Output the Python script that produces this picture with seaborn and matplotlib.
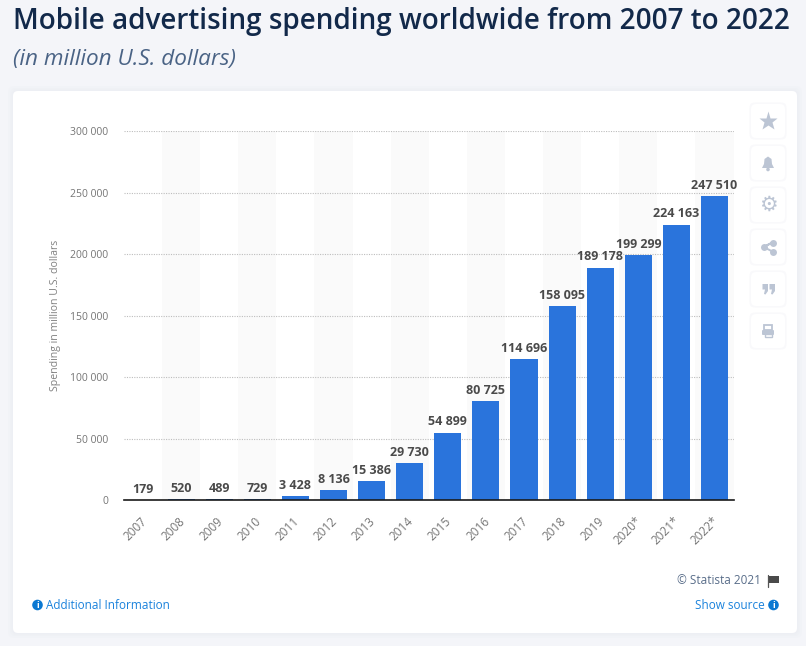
import matplotlib
matplotlib.use('Agg')
import matplotlib.pyplot as plt
from matplotlib.patches import FancyBboxPatch, Circle, Rectangle, Polygon
from matplotlib.transforms import ScaledTranslation
import pandas as pd
import seaborn as sns

years = ['2007', '2008', '2009', '2010', '2011', '2012', '2013', '2014', '2015',
         '2016', '2017', '2018', '2019', '2020*', '2021*', '2022*']
spending = [179, 520, 489, 729, 3428, 8136, 15386, 29730, 54899,
            80725, 114696, 158095, 189178, 199299, 224163, 247510]
y_ticks = [0, 50000, 100000, 150000, 200000, 250000, 300000]

sns.set_theme(style='white')
plt.rcParams['font.family'] = ['Open Sans', 'DejaVu Sans']

df = pd.DataFrame({'year': years, 'spending': spending})

fig = plt.figure(figsize=(8.06, 6.46), dpi=100, facecolor='#f4f5f9')

# background layer in pixel coordinates: card, buttons, icons
bg = fig.add_axes([0, 0, 1, 1], zorder=0)
bg.set_xlim(0, 806)
bg.set_ylim(646, 0)
bg.axis('off')

for grow, alpha in [(5, 0.25), (3, 0.4), (1.5, 0.6)]:
    bg.add_patch(FancyBboxPatch((13 - grow, 91 - grow), 784 + 2 * grow, 542 + 2 * grow,
                                boxstyle='round,pad=0,rounding_size=6', fc='#eceef4', ec='none', alpha=alpha))
bg.add_patch(FancyBboxPatch((13, 91), 784, 542, boxstyle='round,pad=0,rounding_size=5',
                            fc='white', ec='none'))

icon = '#bcc5d4'
centers = [121, 163, 205, 247, 289, 331]
for cy in centers:
    for grow, c in [(1.5, '#f9f9fb'), (0, 'white')]:
        bg.add_patch(FancyBboxPatch((751 - grow, cy - 17 - grow), 34 + 2 * grow, 34 + 2 * grow,
                                    boxstyle='round,pad=0,rounding_size=5', fc=c, ec='none'))

bg.plot([768], [121], marker='*', ms=14, color=icon, mec='none')
# bell
bg.add_patch(Polygon([(762, 168), (774, 168), (772, 164), (771.5, 159), (768, 156.5),
                      (764.5, 159), (764, 164)], fc=icon, ec='none'))
bg.add_patch(Circle((768, 169.5), 1.8, fc=icon, ec='none'))
# gear
bg.text(768, 204.5, '\u2699', fontsize=15, color=icon, ha='center', va='center', family='DejaVu Sans')
# share
bg.plot([763.5, 772.5, 763.5, 772.5], [247, 242.5, 247, 251.5], color=icon, lw=1.4)
bg.plot([763.5, 772.5, 772.5], [247, 242.5, 251.5], ls='none', marker='o', ms=5, color=icon, mec='none')
# quote marks
for qx in [762.5, 769.5]:
    bg.add_patch(Polygon([(qx, 284), (qx + 5.5, 284), (qx + 5.5, 291), (qx + 3, 294.5), (qx + 1.5, 294),
                          (qx + 2.5, 289.5), (qx, 289.5)], fc=icon, ec='none'))
# printer
bg.add_patch(Rectangle((764, 325), 8, 5, fc='white', ec=icon, lw=1.3))
bg.add_patch(FancyBboxPatch((762, 330), 12, 5, boxstyle='round,pad=0,rounding_size=1', fc=icon, ec='none'))
bg.add_patch(Rectangle((764.5, 334), 7, 3, fc='white', ec=icon, lw=1.0))

# flag next to the copyright
bg.plot([767.6, 767.6], [575, 587], color='#555555', lw=0.9)
bg.add_patch(Polygon([(768.5, 576), (779, 576), (779, 583), (768.5, 583)], fc='#4a4a4a', ec='none'))

# info icons
for ix in [37.5, 773.5]:
    bg.add_patch(Circle((ix, 605), 5.3, fc='#0a78d2', ec='none'))
    bg.text(ix, 605.3, 'i', color='white', fontsize=6.5, fontweight='bold', ha='center', va='center')

# chart
ax = fig.add_axes([124 / 806, 146 / 646, 609.5 / 806, 368.5 / 646], zorder=1)
ax.patch.set_alpha(0)

for i in range(1, len(years), 2):
    ax.axvspan(i - 0.5, i + 0.5, color='#fafafa', lw=0, zorder=0)

sns.barplot(data=df, x='year', y='spending', color='#2a74dc', saturation=1, width=0.71,
            linewidth=0, ax=ax, zorder=2)

ax.set_xlim(-0.5, len(years) - 0.5)
ax.set_ylim(0, 300000)
ax.set_yticks(y_ticks)
ax.set_yticklabels([f'{v:,}'.replace(',', ' ') for v in y_ticks], fontsize=7.5, color='#757575')
ax.yaxis.grid(True, color='#bdbdbd', ls=(0, (1, 1.2)), lw=0.8)
ax.set_axisbelow(True)
ax.xaxis.grid(False)
ax.tick_params(axis='y', length=0, pad=11.5)
ax.tick_params(axis='x', length=0, pad=10.5)
ax.set_xticks(range(len(years)))
ax.set_xticklabels(years, rotation=45, ha='right', rotation_mode='anchor', fontsize=8.5, color='#757575')
shift = ScaledTranslation(-2 / 72, 0, fig.dpi_scale_trans)
for lab in ax.get_xticklabels():
    lab.set_transform(lab.get_transform() + shift)
ax.set_xlabel('')
ax.set_ylabel('Spending in million U.S. dollars', fontsize=7.6, color='#808080', labelpad=6)

for side in ['top', 'left', 'right']:
    ax.spines[side].set_visible(False)
ax.spines['bottom'].set_color('#1a1a1a')
ax.spines['bottom'].set_linewidth(1.2)

ax.bar_label(ax.containers[0], labels=[f'{v:,}'.replace(',', ' ') for v in spending],
             fontsize=9, fontweight='bold', color='#4a4a4a', padding=3, zorder=5)

# headings and footer
bg.text(13, 21, 'Mobile advertising spending worldwide from 2007 to 2022', fontsize=20.1,
        fontweight=600, color='#12294a', va='center', ha='left')
bg.text(13, 59, '(in million U.S. dollars)', fontsize=16.2, style='italic', color='#4a6385',
        va='center', ha='left')
bg.text(46, 605.5, 'Additional Information', fontsize=8.5, color='#1a82dc', va='center', ha='left')
bg.text(765, 605.5, 'Show source', fontsize=8.5, color='#1a82dc', va='center', ha='right')
bg.text(761, 581, '© Statista 2021', fontsize=8.5, color='#5a6e8a', va='center', ha='right')

fig.savefig('out.png', dpi=100, facecolor=fig.get_facecolor())
